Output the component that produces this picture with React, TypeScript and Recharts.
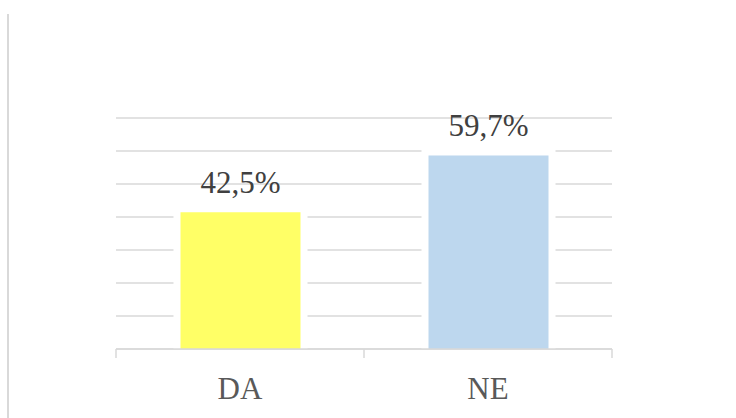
import React from 'react';
import { BarChart, Bar, XAxis, YAxis, CartesianGrid, Cell, LabelList, ReferenceLine } from 'recharts';

const categories = ['DA', 'NE'];
const shares = [42.5, 59.7];
const barColors = ['#FFFF66', '#BDD7EE'];
const yTicks = [0, 10, 20, 30, 40, 50, 60, 70];

// category boundaries where the axis draws its small tick marks
const edgeMarks: { cat: string; pos: 'start' | 'end' }[] = [
    { cat: 'DA', pos: 'start' },
    { cat: 'DA', pos: 'end' },
    { cat: 'NE', pos: 'end' },
];

const data = categories.map((c, i) => ({ name: c, value: shares[i] }));

const font = '"Liberation Serif", "Times New Roman", serif';

const fmt = (v: any) => String(v).replace('.', ',') + '%';

// white border centred on the bar edge (top and sides only), flush with the baseline
const HaloBar = (props: any) => {
    const { x, y, width, height, fill } = props;
    const g = 3.5;
    return (
        <g>
            <rect x={x - g} y={y - g} width={width + 2 * g} height={height + g} fill="#ffffff" />
            <rect x={x + g} y={y + g} width={width - 2 * g} height={height - g} fill={fill} />
        </g>
    );
};

const App: React.FC = () => {
    return (
        <div style={{ position: 'absolute', left: 0, top: 0, width: 736, height: 418, background: '#fff' }}>
            <div style={{ position: 'absolute', left: 7, top: 14, bottom: 0, width: 2, background: '#d9d9d9' }} />
            <BarChart
                width={736}
                height={418}
                data={data}
                margin={{ top: 118, right: 124, bottom: 0, left: 116 }}
            >
                <CartesianGrid vertical={false} stroke="#d9d9d9" strokeWidth={1.5} />
                <YAxis hide domain={[0, 70]} ticks={yTicks} />
                <Bar dataKey="value" barSize={127} shape={HaloBar} isAnimationActive={false}>
                    {data.map((d, i) => (
                        <Cell key={d.name} fill={barColors[i]} />
                    ))}
                    <LabelList
                        dataKey="value"
                        position="top"
                        offset={16}
                        formatter={fmt}
                        style={{ fill: '#404040', fontSize: 31, fontFamily: font }}
                    />
                </Bar>
                <XAxis
                    dataKey="name"
                    height={69}
                    axisLine={{ stroke: '#d9d9d9', strokeWidth: 1.5 }}
                    tickLine={false}
                    tickSize={0}
                    tickMargin={28}
                    tick={{ fill: '#595959', fontSize: 31, fontFamily: font }}
                />
                {edgeMarks.map((m, i) => (
                    <ReferenceLine
                        key={i}
                        segment={[{ x: m.cat, y: 0 }, { x: m.cat, y: -2.7 }]}
                        position={m.pos}
                        ifOverflow="visible"
                        stroke="#d9d9d9"
                        strokeWidth={1.5}
                    />
                ))}
            </BarChart>
        </div>
    );
};

export default App;
